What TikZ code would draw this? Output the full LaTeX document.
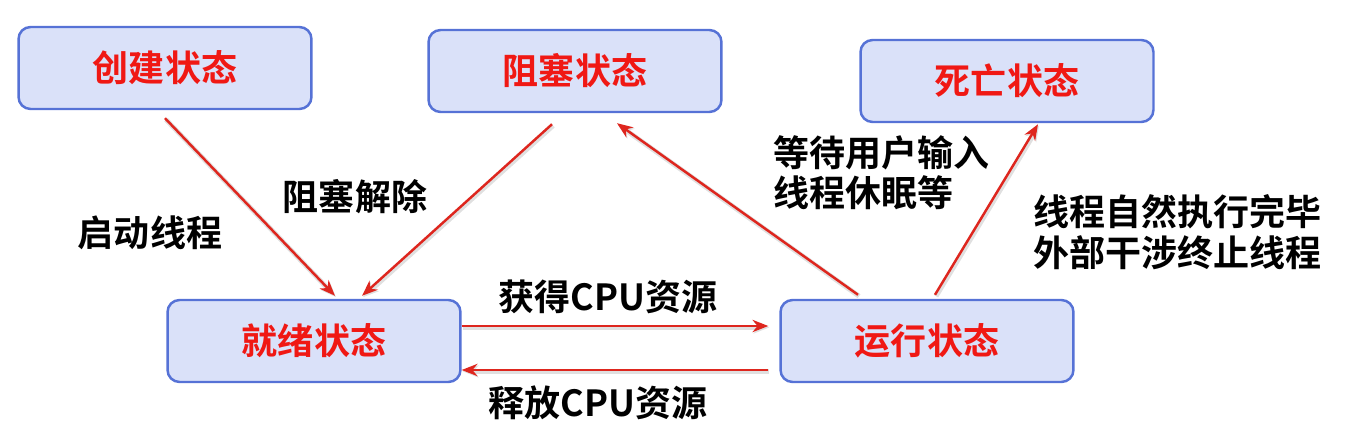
\documentclass[tikz,border=0pt]{standalone}
\usepackage{fontspec}
\setmainfont{Noto Sans CJK SC}[BoldFont={Noto Sans CJK SC Bold}]
\usepackage{tikz}
\usetikzlibrary{arrows.meta, positioning, calc}

\definecolor{boxfill}{RGB}{218,225,249}
\definecolor{boxline}{RGB}{86,114,214}
\definecolor{statered}{RGB}{240,24,20}
\definecolor{flowred}{RGB}{222,38,30}

\begin{document}
\begin{tikzpicture}[
    x=0.02cm, y=-0.02cm,
    state/.style={rectangle, rounded corners=0.24cm, draw=boxline, line width=1.4pt,
        fill=boxfill, minimum width=5.86cm, minimum height=1.64cm,
        text=statered, font=\bfseries\fontsize{20.5}{24}\selectfont},
    flow/.style={-{Stealth[length=9pt,width=7pt]}, draw=flowred, line width=1.4pt,
        preaction={draw=black!12, line width=2.8pt, transform canvas={shift={(0.6pt,-0.8pt)}}}},
    lbl/.style={inner sep=0pt, align=left, font=\bfseries\fontsize{20.5}{23}\selectfont}
]
\useasboundingbox (0,0) rectangle (1350,429);

% states
\node[state] (create) at (165,68) {创建状态};
\node[state] (block) at (575,71) {阻塞状态};
\node[state] (dead) at (1007,81) {死亡状态};
\node[state] (ready) at (314,341) {就绪状态};
\node[state] (run) at (927,341) {运行状态};

% transitions
\draw[flow] ([yshift=-0.16cm]create.south) -- ([xshift=0.42cm,yshift=0.06cm]ready.north);
\draw[flow] ([xshift=-0.46cm,yshift=-0.22cm]block.south) -- ([xshift=0.96cm,yshift=0.06cm]ready.north);
\draw[flow] ([xshift=-1.38cm,yshift=0.08cm]run.north) -- ([xshift=0.84cm,yshift=-0.2cm]block.south);
\draw[flow] ([xshift=0.16cm,yshift=0.08cm]run.north) -- ([xshift=0.62cm,yshift=-0.02cm]dead.south);
\draw[flow] ([yshift=0.3cm]ready.east) -- ([xshift=-0.22cm,yshift=0.3cm]run.west);
\draw[flow] ([xshift=-0.22cm,yshift=-0.58cm]run.west) -- ([yshift=-0.58cm]ready.east);

% labels
\node[lbl] (start) at (150,233) {启动线程};
\node[lbl] (unblock) at (355,197) {阻塞解除};
\node[lbl, anchor=west] (wait) at (773,173) {等待用户输入\\线程休眠等};
\node[lbl, anchor=west] (finish) at (1033,232) {线程自然执行完毕\\外部干涉终止线程};
\node[lbl] (getcpu) at (608,297) {获得CPU资源};
\node[lbl] (freecpu) at (598,403) {释放CPU资源};
\end{tikzpicture}
\end{document}
